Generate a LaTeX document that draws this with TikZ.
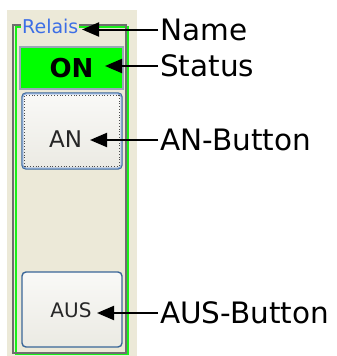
\documentclass[tikz,border=0pt]{standalone}
\usepackage{fontspec}
\setmainfont{DejaVu Sans}
\usetikzlibrary{arrows.meta}
\definecolor{panelbg}{HTML}{ECE9D8}
\definecolor{framegray}{HTML}{6E6E6E}
\definecolor{framegreen}{HTML}{19F019}
\definecolor{relaisblue}{HTML}{3C6EE6}
\definecolor{statusgreen}{HTML}{00FF00}
\definecolor{statusborder}{HTML}{9AA6B6}
\definecolor{btnborder}{HTML}{3A6698}
\definecolor{btnglow}{HTML}{86A8DA}
\definecolor{btntop}{HTML}{F9F9F7}
\definecolor{btnbot}{HTML}{EBEAE3}
\tikzset{
  callout/.style={line width=2pt, -{Triangle[length=17pt,width=14pt]}},
  lbl/.style={anchor=west, inner sep=2pt, font=\fontsize{29.5}{34}\selectfont},
  btn/.style={draw=btnborder, line width=1.4pt, rounded corners=4pt, top color=btntop, bottom color=btnbot, minimum width=100pt},
  btntext/.style={inner sep=0pt, text=black!85}
}
\begin{document}
\begin{tikzpicture}[x=1pt,y=-1pt]
\useasboundingbox (0,0) rectangle (337,356);
\fill[panelbg] (7,10) rectangle (137,356);
% group box frame
\draw[framegreen, line width=2pt] (16,27) rectangle (128,354);
\draw[framegray, line width=1.8pt] (13,25) rectangle (126,353);
\node[fill=panelbg, inner sep=1pt, anchor=base west, text=relaisblue, font=\fontsize{19}{22}\selectfont] (relais) at (21,33) {Relais};
\node[draw=statusborder, fill=statusgreen, line width=1.5pt, minimum width=103pt, minimum height=42pt, font=\bfseries\fontsize{26}{29}\selectfont] (status) at (71.5,68) {ON};
% buttons
\node[btn, minimum height=76pt] (anbtn) at (72,131) {};
\draw[btnglow, line width=1pt, rounded corners=3pt] ([shift={(1.6pt,-1.6pt)}]anbtn.north west) rectangle ([shift={(-1.6pt,1.6pt)}]anbtn.south east);
\draw[black!70, line width=0.8pt, dotted] ([shift={(3.5pt,-3.5pt)}]anbtn.north west) rectangle ([shift={(-3.5pt,3.5pt)}]anbtn.south east);
\node[btntext, font=\fontsize{23}{26}\selectfont] (antext) at (65.5,139) {AN};
\node[btn, minimum height=75pt] (ausbtn) at (72,309.5) {};
\node[btntext, font=\fontsize{20}{23}\selectfont] (austext) at (71,310) {AUS};
% tips
\coordinate (tipname) at (82,29.5);
\coordinate (tipstatus) at (105,66);
\coordinate (tipan) at (90,140);
\coordinate (tipaus) at (97,313);
\node[lbl] (lblname) at (158,29.5) {Name};
\node[lbl] (lblstatus) at (158,66) {Status};
\node[lbl] (lblan) at (158,140) {AN-Button};
\node[lbl] (lblaus) at (158,313) {AUS-Button};
\draw[callout] (lblname.west) -- (tipname);
\draw[callout] (lblstatus.west) -- (tipstatus);
\draw[callout] (lblan.west) -- (tipan);
\draw[callout] (lblaus.west) -- (tipaus);
\end{tikzpicture}
\end{document}
